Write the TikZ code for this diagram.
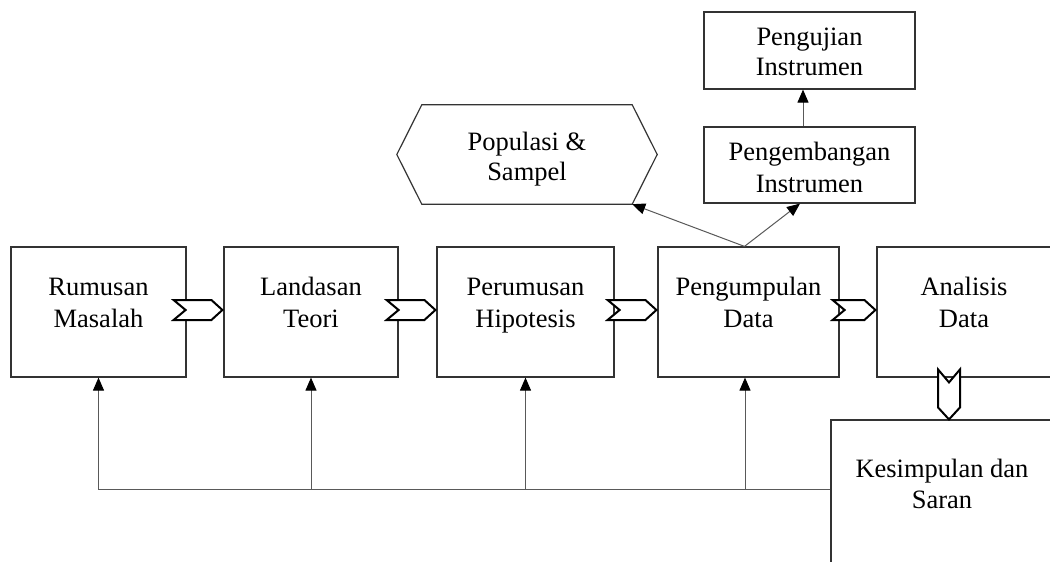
\documentclass[tikz,border=0pt]{standalone}
\usepackage{fontspec}
\setmainfont{Liberation Serif}
\usetikzlibrary{calc,arrows.meta}
\tikzset{
  box/.style={draw=black!80, line width=1.2pt, fill=none, inner sep=0pt},
  lbl/.style={align=center, inner sep=0pt, anchor=base, font=\fontsize{26.5}{32}\selectfont},
  chev/.style={draw=black, line width=2pt, fill=white, line join=miter},
  arr/.style={draw=black!65, line width=1pt, -{Triangle[length=13pt,width=11pt,black]}},
  ln/.style={draw=black!65, line width=1pt},
}
\newcommand\hchev[3]{%
  \path (#1.east) ++(-#3,-2) coordinate (cl);
  \path (#2.west) ++(-1,-2) coordinate (cr);
  \draw[chev] ($(cl)+(0,-10)$) -- ($(cr)+(-11,-10)$) -- (cr) -- ($(cr)+(-11,10)$) -- ($(cl)+(0,10)$) -- ($(cl)+(12,0)$) -- cycle;}
\begin{document}
\begin{tikzpicture}[x=1pt,y=-1pt]
\useasboundingbox (0,0) rectangle (1050,562);
\clip (0,0) rectangle (1050,562);
\fill[white] (0,0) rectangle (1050,562);
% main boxes
\node[box, minimum width=175pt, minimum height=130pt] (rm) at (98.5,312) {};
\node[box, minimum width=174pt, minimum height=130pt] (lt) at (311,312) {};
\node[box, minimum width=177pt, minimum height=130pt] (ph) at (525.5,312) {};
\node[box, minimum width=181pt, minimum height=130pt] (pd) at (748.5,312) {};
\node[box, minimum width=176pt, minimum height=130pt] (ad) at (965,312) {};
\node[box, minimum width=222pt, minimum height=146pt] (ks) at (942,493) {};
\node[box, minimum width=211pt, minimum height=76pt] (pi) at (809.5,165) {};
\node[box, minimum width=211pt, minimum height=77pt] (pu) at (809.5,50.5) {};
\node[inner sep=0pt, minimum width=210pt, minimum height=99pt] (pop) at (527,154.5) {};
\draw[box] (pop.north west) -- (pop.north east) -- ($(pop.east)+(25,0)$) -- (pop.south east) -- (pop.south west) -- ($(pop.west)+(-25,0)$) -- cycle;
% labels (anchor base = baseline of last line)
\node[lbl] (trm) at (98.5,327) {Rumusan\\Masalah};
\node[lbl] (tlt) at (311,327) {Landasan\\Teori};
\node[lbl] (tph) at (525.5,327) {Perumusan\\Hipotesis};
\node[lbl] (tpd) at (748.5,327) {Pengumpulan\\Data};
\node[lbl] (tad) at (964,327) {Analisis\\Data};
\node[lbl, font=\fontsize{26.5}{31}\selectfont] (tks) at (942,508) {Kesimpulan dan\\Saran};
\node[lbl, font=\fontsize{26.5}{30}\selectfont] (tpop) at (527,180) {Populasi \&\\Sampel};
\node[lbl, font=\fontsize{26.5}{30}\selectfont] (tpu) at (809.5,75) {Pengujian\\Instrumen};
\node[lbl] (tpi) at (809.5,192) {Pengembangan\\Instrumen};
% chevrons
\hchev{rm}{lt}{13}
\hchev{lt}{ph}{12}
\hchev{ph}{pd}{7}
\hchev{pd}{ad}{7}
\coordinate (dc) at ($(ks.north)+(7,0)$);
\draw[chev] ($(dc)+(-11,-50)$) -- ($(dc)+(0,-37)$) -- ($(dc)+(11,-50)$) -- ($(dc)+(11,-12)$) -- (dc) -- ($(dc)+(-11,-12)$) -- cycle;
% upward arrows
\coordinate (pdt) at ($(pd.north)+(-4,0)$);
\draw[arr] (pdt) -- (pop.south east);
\draw[arr] (pdt) -- ($(pi.south)+(-9.5,0)$);
\coordinate (pin) at ($(pi.north)+(-6.5,0)$);
\draw[arr] (pin) -- (pu.south -| pin);
% feedback
\coordinate (fbr) at ($(ks.west)+(0,-4)$);
\draw[arr] (fbr) -- (rm.south |- fbr) -- (rm.south);
\draw[arr] (lt.south |- fbr) -- (lt.south);
\draw[arr] (ph.south |- fbr) -- (ph.south);
\coordinate (pds) at ($(pd.south)+(-3.5,0)$);
\draw[arr] (pds |- fbr) -- (pds);
\end{tikzpicture}
\end{document}
